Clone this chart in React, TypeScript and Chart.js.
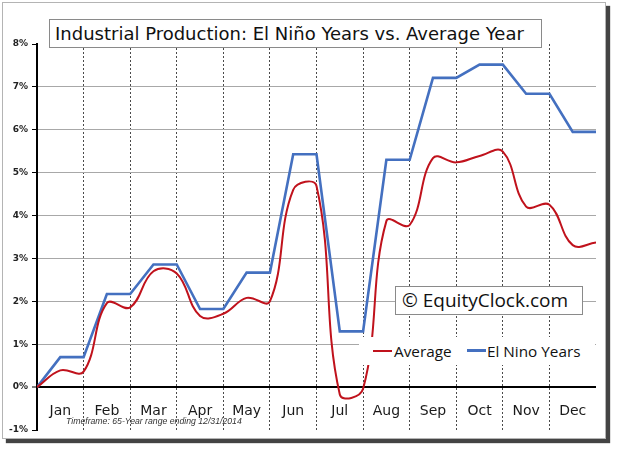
import React, { useEffect, useRef } from 'react';
import { Chart, registerables } from 'chart.js';

Chart.register(...registerables);

const MONTHS = ['Jan', 'Feb', 'Mar', 'Apr', 'May', 'Jun', 'Jul', 'Aug', 'Sep', 'Oct', 'Nov', 'Dec'];
// positions in months (start, mid-month, month end, ...)
const POSITIONS = [0, 0.5, 1, 1.5, 2, 2.5, 3, 3.5, 4, 4.5, 5, 5.5, 6, 6.5, 7, 7.5, 8, 8.5, 9, 9.5, 10, 10.5, 11, 11.5, 12];
const AVERAGE = [0, 0.39, 0.36, 1.96, 1.86, 2.70, 2.65, 1.66, 1.71, 2.08, 2.0, 4.6, 4.69, -0.17, -0.04, 3.87, 3.78, 5.34, 5.24, 5.39, 5.49, 4.21, 4.25, 3.31, 3.37];
const EL_NINO = [0, 0.70, 0.70, 2.17, 2.17, 2.86, 2.86, 1.82, 1.82, 2.67, 2.67, 5.43, 5.43, 1.30, 1.30, 5.30, 5.30, 7.21, 7.21, 7.52, 7.52, 6.84, 6.84, 5.95, 5.95];
const Y_MIN = -1;
const Y_MAX = 8;

const RED = '#c0121c';
const BLUE = '#4470c0';

const TITLE = 'Industrial Production: El Niño Years vs. Average Year';
const WATERMARK = '© EquityClock.com';
const TIMEFRAME = 'Timeframe: 65-Year range ending 12/31/2014';

const monthLabels = {
  id: 'monthLabels',
  afterDatasetsDraw(chart: any) {
    const { ctx, scales } = chart;
    const xs = scales.x;
    const ys = scales.y;
    ctx.save();
    ctx.font = '14px "DejaVu Sans"';
    ctx.fillStyle = '#1a1a1a';
    ctx.textAlign = 'center';
    ctx.textBaseline = 'middle';
    MONTHS.forEach((m, i) => {
      ctx.fillText(m, xs.getPixelForValue(i + 0.5), ys.getPixelForValue(-0.56));
    });
    ctx.restore();
  },
};

export default function App() {
  const ref = useRef<HTMLCanvasElement | null>(null);

  useEffect(() => {
    if (!ref.current) return;
    Chart.defaults.font.family = '"DejaVu Sans"';
    const chart = new Chart(ref.current, {
      type: 'line',
      data: {
        datasets: [
          {
            label: 'Average',
            data: POSITIONS.map((x, i) => ({ x, y: AVERAGE[i] })),
            borderColor: RED,
            borderWidth: 2,
            pointRadius: 0,
            tension: 0.4,
          },
          {
            label: 'El Nino Years',
            data: POSITIONS.map((x, i) => ({ x, y: EL_NINO[i] })),
            borderColor: BLUE,
            borderWidth: 2.6,
            pointRadius: 0,
            tension: 0,
          },
        ],
      },
      options: {
        animation: false,
        responsive: false,
        layout: { padding: { top: 44, right: 21, bottom: 21, left: 0 } },
        plugins: {
          legend: { display: false },
          tooltip: { enabled: false },
        },
        scales: {
          x: {
            type: 'linear',
            min: 0,
            max: 12,
            afterFit: (s: any) => {
              s.height = 0;
            },
            ticks: { display: false, stepSize: 1 },
            grid: {
              color: (c: any) =>
                c.tick && (c.tick.value === 0 || c.tick.value === 12) ? 'rgba(0,0,0,0)' : '#4a4a4a',
              lineWidth: 1,
              drawTicks: false,
            },
            border: { display: false, dash: [2, 2] },
          },
          y: {
            min: Y_MIN,
            max: Y_MAX,
            afterFit: (s: any) => {
              s.width = 37;
            },
            ticks: {
              stepSize: 1,
              callback: (v: any) => `${v}%`,
              font: { size: 9, weight: 'bold', family: '"DejaVu Sans"' },
              color: '#222',
              padding: 4,
            },
            grid: {
              color: (c: any) => {
                if (!c.tick) return '#aaa';
                if (c.tick.value === 0) return '#000';
                if (c.tick.value === Y_MIN || c.tick.value === Y_MAX) return 'rgba(0,0,0,0)';
                return '#a8a8a8';
              },
              lineWidth: (c: any) => (c.tick && c.tick.value === 0 ? 2 : 1),
              tickColor: '#000',
              tickLength: 5,
              tickWidth: 1,
            },
            border: { display: true, color: '#000', width: 2 },
          },
        },
      },
      plugins: [monthLabels],
    });
    return () => chart.destroy();
  }, []);

  return (
    <div style={{ position: 'fixed', left: 0, top: 0, width: 617, height: 451, background: '#fff', overflow: 'hidden' }}>
      <div
        style={{
          position: 'absolute',
          left: 2,
          top: 2,
          width: 604,
          height: 437,
          boxSizing: 'border-box',
          border: '1px solid #b4b4b4',
          boxShadow: '4px 4px 1px #444',
          background: '#fff',
        }}
      />
      <canvas ref={ref} width={617} height={451} style={{ position: 'absolute', left: 0, top: 0, width: 617, height: 451 }} />
      <div
        style={{
          position: 'absolute',
          left: 49,
          top: 19,
          width: 493,
          height: 29,
          boxSizing: 'border-box',
          border: '1px solid #8a8a8a',
          background: '#fff',
          font: '18px "DejaVu Sans"',
          lineHeight: '27px',
          paddingLeft: 5,
          color: '#111',
          whiteSpace: 'nowrap',
        }}
      >
        {TITLE}
      </div>
      <div
        style={{
          position: 'absolute',
          left: 395,
          top: 286,
          width: 188,
          height: 29,
          boxSizing: 'border-box',
          border: '1px solid #8a8a8a',
          background: '#fff',
          font: '19px "Open Sans"',
          lineHeight: '27px',
          paddingLeft: 6,
          color: '#111',
          whiteSpace: 'nowrap',
        }}
      >
        {WATERMARK}
      </div>
      <div style={{ position: 'absolute', left: 359, top: 337, width: 236, height: 28, background: '#fff' }}>
        <div style={{ position: 'absolute', left: 14, top: 13, width: 19, height: 2, background: RED }} />
        <div
          style={{
            position: 'absolute',
            left: 35,
            top: 0,
            height: 28,
            font: '15.3px "Open Sans"',
            lineHeight: '28px',
            color: '#111',
            whiteSpace: 'nowrap',
          }}
        >
          Average
        </div>
        <div style={{ position: 'absolute', left: 108, top: 12, width: 19, height: 2.5, background: BLUE }} />
        <div
          style={{
            position: 'absolute',
            left: 128,
            top: 0,
            height: 28,
            font: '15.3px "Open Sans"',
            lineHeight: '28px',
            color: '#111',
            whiteSpace: 'nowrap',
          }}
        >
          El Nino Years
        </div>
      </div>
      <div
        style={{
          position: 'absolute',
          left: 66,
          top: 415,
          font: 'italic 8.7px "Liberation Sans"',
          lineHeight: '12px',
          color: '#333',
          whiteSpace: 'nowrap',
        }}
      >
        {TIMEFRAME}
      </div>
    </div>
  );
}
